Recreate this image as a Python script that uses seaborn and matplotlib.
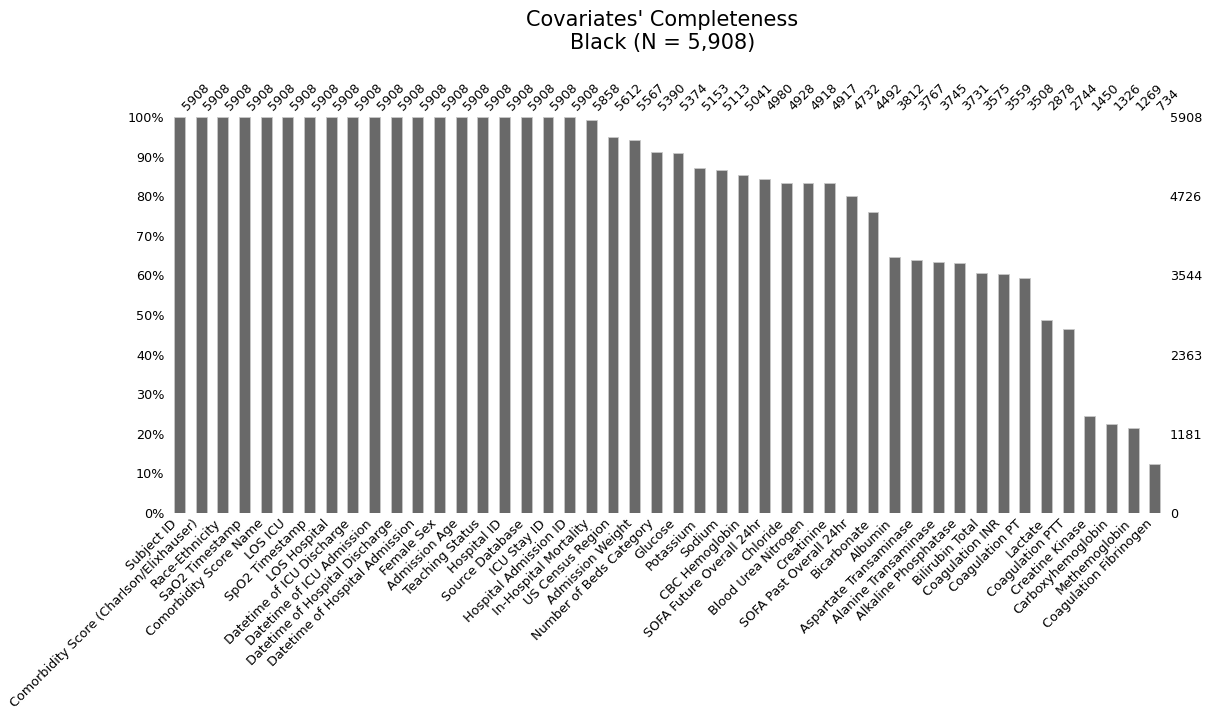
import matplotlib
matplotlib.use("Agg")
import matplotlib.pyplot as plt
import seaborn as sns
import pandas as pd
import numpy as np

columns = [
    "Subject ID", "Comorbidity Score (Charlson/Elixhauser)", "Race-Ethnicity",
    "SaO2 Timestamp", "Comorbidity Score Name", "LOS ICU", "SpO2 Timestamp",
    "LOS Hospital", "Datetime of ICU Discharge", "Datetime of ICU Admission",
    "Datetime of Hospital Discharge", "Datetime of Hospital Admission",
    "Female Sex", "Admission Age", "Teaching Status", "Hospital ID",
    "Source Database", "ICU Stay ID", "Hospital Admission ID",
    "In-Hospital Mortality", "US Census Region", "Admission Weight",
    "Number of Beds Category", "Glucose", "Potassium", "Sodium",
    "CBC Hemoglobin", "SOFA Future Overall 24hr", "Chloride",
    "Blood Urea Nitrogen", "Creatinine", "SOFA Past Overall 24hr",
    "Bicarbonate", "Albumin", "Aspartate Transaminase", "Alanine Transaminase",
    "Alkaline Phosphatase", "Bilirubin Total", "Coagulation INR",
    "Coagulation PT", "Lactate", "Coagulation PTT", "Creatine Kinase",
    "Carboxyhemoglobin", "Methemoglobin", "Coagulation Fibrinogen",
]
counts = [
    5908, 5908, 5908, 5908, 5908, 5908, 5908, 5908, 5908, 5908,
    5908, 5908, 5908, 5908, 5908, 5908, 5908, 5908, 5908,
    5858, 5612, 5567, 5390, 5374, 5153, 5113, 5041, 4980, 4928,
    4918, 4917, 4732, 4492, 3812, 3767, 3745, 3731, 3575, 3559,
    3508, 2878, 2744, 1450, 1326, 1269, 734,
]
total_n = 5908
title_lines = ["Covariates' Completeness", "Black (N = 5,908)"]
right_ticks = [0, 1181, 2363, 3544, 4726, 5908]

df = pd.DataFrame({"column": columns, "count": counts})
df["frac"] = df["count"] / total_n

sns.set_style("white")
plt.rcParams["font.family"] = ["DejaVu Sans"]
plt.rcParams["text.color"] = "black"
plt.rcParams["xtick.color"] = "black"
plt.rcParams["ytick.color"] = "black"

fig = plt.figure(figsize=(12.13, 7.13), dpi=100)
ax = fig.add_axes([0.139, 0.2805, 0.822, 0.5555])

sns.barplot(data=df, x="column", y="frac", color="dimgray", width=0.5,
            edgecolor="#c8c8c8", linewidth=0.6, saturation=1, ax=ax)
n = len(columns)
ax.set_xlim(-0.5, n - 0.5)
ax.set_ylim(0, 1)
ax.set_xlabel("")
ax.set_ylabel("")
fs = 9.2
ax.set_yticks(np.linspace(0, 1, 11))
ax.set_yticklabels([f"{int(v)}%" for v in np.arange(0, 101, 10)], fontsize=fs)
ax.set_xticks(range(n))
ax.set_xticklabels(columns, rotation=45, ha="right", fontsize=fs)
ax.tick_params(axis="both", length=0, pad=3)
for s in ax.spines.values():
    s.set_visible(False)

ax2 = ax.twinx()
ax2.set_ylim(0, 1)
ax2.set_yticks(np.array(right_ticks) / total_n)
ax2.set_yticklabels([str(v) for v in right_ticks], fontsize=fs)
ax2.tick_params(axis="y", length=0, pad=3)
for s in ax2.spines.values():
    s.set_visible(False)

ax3 = ax.twiny()
ax3.set_xlim(ax.get_xlim())
ax3.set_xticks(range(n))
ax3.set_xticklabels([str(c) for c in counts], rotation=45, ha="left", fontsize=fs)
ax3.tick_params(axis="x", length=0, pad=3)
for s in ax3.spines.values():
    s.set_visible(False)

fig.text(0.546, 0.986, "\n".join(title_lines), ha="center", va="top", fontsize=15)

fig.savefig("out.png", dpi=100)
